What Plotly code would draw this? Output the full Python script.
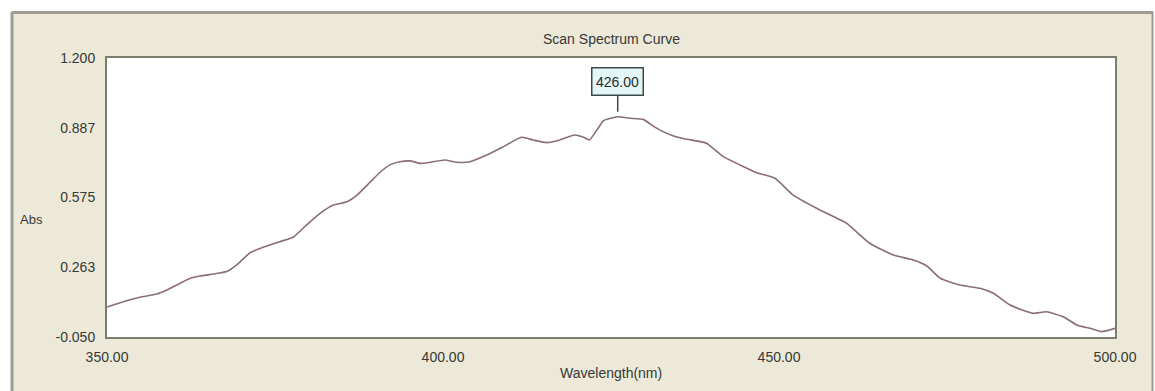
import plotly.graph_objects as go

# Scan spectrum: wavelength (nm) vs absorbance
wavelength = [
    350.0, 352.4, 354.9, 357.4, 358.9, 360.9, 362.4, 363.8, 365.8, 367.8,
    369.3, 371.3, 372.8, 375.7, 377.7, 379.7, 381.7, 383.7, 385.7, 387.2,
    389.1, 390.6, 392.1, 393.6, 395.1, 396.6, 398.1, 400.3, 402.0, 404.0,
    406.5, 409.0, 411.7, 413.4, 415.4, 417.4, 419.6, 420.9, 421.8, 422.9,
    423.9, 426.0, 427.8, 429.8, 431.3, 432.3, 434.3, 436.3, 439.2, 441.7,
    444.2, 446.7, 449.4, 452.1, 455.6, 458.6, 460.1, 463.5, 467.0, 470.0,
    472.0, 474.0, 476.9, 479.9, 481.9, 484.4, 487.8, 489.8, 492.3, 494.3,
    496.3, 498.0, 500.0,
]
absorbance = [
    0.084, 0.108, 0.128, 0.143, 0.161, 0.191, 0.213, 0.223, 0.232, 0.243,
    0.273, 0.328, 0.347, 0.377, 0.397, 0.452, 0.504, 0.541, 0.556, 0.586,
    0.642, 0.687, 0.721, 0.735, 0.739, 0.728, 0.733, 0.743, 0.733, 0.735,
    0.765, 0.803, 0.845, 0.833, 0.821, 0.833, 0.855, 0.845, 0.833, 0.877,
    0.919, 0.937, 0.930, 0.925, 0.895, 0.877, 0.851, 0.836, 0.818, 0.758,
    0.721, 0.686, 0.661, 0.586, 0.527, 0.482, 0.459, 0.370, 0.317, 0.295,
    0.268, 0.213, 0.183, 0.168, 0.146, 0.093, 0.056, 0.063, 0.041, 0.004,
    -0.011, -0.026, -0.011,
]

x_tickvals = [350, 400, 450, 500]
x_ticktext = ["350.00", "400.00", "450.00", "500.00"]
y_tickvals = [-0.05, 0.2625, 0.575, 0.8875, 1.2]
y_ticktext = ["-0.050", "0.263", "0.575", "0.887", "1.200"]

peak_wavelength = 426.0
peak_label = "426.00"

W, H = 1155, 391
L, R, T, B = 107, 40, 58, 54
plot_w = W - L - R
plot_h = H - T - B

def px_x(px):
    return (px - L) / plot_w

def px_y(py):
    return (H - B - py) / plot_h

PANEL = "#ECE9D8"
FRAME = "#9E9D92"
TEXT = "#383838"
FONT = "Liberation Sans, Arial, sans-serif"

fig = go.Figure()
fig.add_trace(go.Scatter(
    x=wavelength, y=absorbance, mode="lines",
    line=dict(color="#8a6c7a", width=1.6, shape="spline", smoothing=0.5),
    hoverinfo="skip", showlegend=False,
))

peak_abs = absorbance[wavelength.index(peak_wavelength)]

shapes = [
    # white surround outside the panel
    dict(type="rect", xref="paper", yref="paper", layer="below",
         x0=px_x(-5), x1=px_x(W + 5), y0=px_y(11), y1=px_y(-5),
         fillcolor="white", line=dict(width=0)),
    dict(type="rect", xref="paper", yref="paper", layer="below",
         x0=px_x(-5), x1=px_x(11), y0=px_y(H + 5), y1=px_y(-5),
         fillcolor="white", line=dict(width=0)),
    dict(type="rect", xref="paper", yref="paper", layer="below",
         x0=px_x(1153.5), x1=px_x(W + 5), y0=px_y(H + 5), y1=px_y(-5),
         fillcolor="white", line=dict(width=0)),
    # panel frame
    dict(type="line", xref="paper", yref="paper",
         x0=px_x(12), x1=px_x(1153), y0=px_y(12.5), y1=px_y(12.5),
         line=dict(color=FRAME, width=3)),
    dict(type="line", xref="paper", yref="paper",
         x0=px_x(12), x1=px_x(12), y0=px_y(12), y1=px_y(H + 5),
         line=dict(color=FRAME, width=3)),
    dict(type="line", xref="paper", yref="paper",
         x0=px_x(1152.5), x1=px_x(1152.5), y0=px_y(12), y1=px_y(H + 5),
         line=dict(color=FRAME, width=2)),
]

annotations = [
    dict(text="Scan Spectrum Curve", xref="paper", yref="paper",
         x=0.5, y=px_y(39), xanchor="center", yanchor="middle",
         showarrow=False, font=dict(family=FONT, size=14, color=TEXT)),
    dict(text="Wavelength(nm)", xref="paper", yref="paper",
         x=0.5, y=px_y(373), xanchor="center", yanchor="middle",
         showarrow=False, font=dict(family=FONT, size=14, color=TEXT)),
    dict(text="Abs", xref="paper", yref="paper",
         x=px_x(31), y=px_y(220), xanchor="center", yanchor="middle",
         showarrow=False, font=dict(family=FONT, size=13, color=TEXT)),
    dict(text=peak_label, x=peak_wavelength, y=peak_abs, xref="x", yref="y",
         showarrow=True, arrowhead=0, arrowwidth=1.5, arrowcolor="#3c4a4a",
         ax=0, ay=-35, standoff=5,
         bgcolor="#E4F6F6", bordercolor="#3c4a4a", borderwidth=1.5,
         borderpad=2, width=46, height=22,
         font=dict(family=FONT, size=14, color="#1f2a2a")),
]

fig.update_layout(
    width=W, height=H, autosize=False,
    margin=dict(l=L, r=R, t=T, b=B, pad=0),
    paper_bgcolor=PANEL, plot_bgcolor="white",
    shapes=shapes, annotations=annotations, showlegend=False,
    xaxis=dict(
        range=[350, 500], tickvals=x_tickvals, ticktext=x_ticktext,
        showgrid=False, zeroline=False, showline=True, mirror=True,
        linecolor="#7c7c70", linewidth=2, ticks="", ticklabelstandoff=6,
        tickfont=dict(family=FONT, size=14, color=TEXT),
    ),
    yaxis=dict(
        range=[-0.05, 1.2], tickvals=y_tickvals, ticktext=y_ticktext,
        showgrid=False, zeroline=False, showline=True, mirror=True,
        linecolor="#7c7c70", linewidth=2, ticks="", ticklabelstandoff=7,
        tickfont=dict(family=FONT, size=14, color=TEXT),
    ),
)

fig.write_html("out.html")
